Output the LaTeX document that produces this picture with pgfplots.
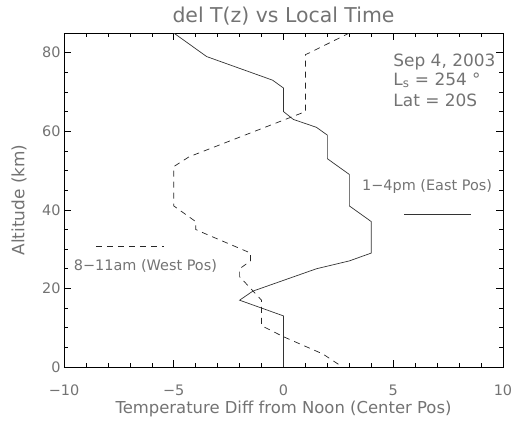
\documentclass[border=0pt]{standalone}
\usepackage{pgfplots}
\pgfplotsset{compat=1.18}
\usepackage{fontspec}
\setmainfont{DejaVu Sans}
\definecolor{txt}{gray}{0.45}
\begin{document}
\begin{tikzpicture}
\begin{axis}[
  scale only axis, width=439bp, height=334bp,
  xmin=-10, xmax=10, ymin=0, ymax=85,
  xtick={-10,-5,0,5,10}, xticklabels={−10,−5,0,5,10},
  ytick={0,20,40,60,80}, yticklabels={0,20,40,60,80},
  minor xtick={-9,-8,-7,-6,-4,-3,-2,-1,1,2,3,4,6,7,8,9},
  minor ytick={5,10,15,25,30,35,45,50,55,65,70,75,85},
  tick align=inside, major tick length=7bp, minor tick length=4bp,
  tick style={black, line width=0.6pt},
  axis line style={black, line width=0.8pt},
  ticklabel style={font=\fontsize{14.5}{15}\selectfont, text=txt},
  xticklabel style={yshift=-14bp},
  /pgf/number format/assume math mode=true,
  xlabel={Temperature Diff from Noon (Center Pos)},
  ylabel={Altitude (km)},
  xlabel style={at={(axis description cs:0.5,-0.1257)}, anchor=center, font=\fontsize{16.5}{17}\selectfont, text=txt},
  ylabel style={at={(axis description cs:-0.1025,0.5)}, anchor=center, rotate=0, font=\fontsize{17}{17}\selectfont, text=txt},
  clip mode=individual,
]
\addplot[black!80, line width=0.7pt] coordinates {
 (-5,85) (-3.5,79) (-0.5,73) (0,71) (0,65) (0.45,63) (1.5,61) (2,59) (2,53) (3,49) (3,41) (4,37) (4,29) (3,27) (1.5,25) (-1.4,19.3) (-2,17) (0,13) (0,0)
};
\addplot[black!85, line width=0.7pt, dash pattern=on 6bp off 5bp] coordinates {
 (3,85) (1.2,80) (1,79.5) (1,65) (-4.3,53.5) (-5,51) (-5,41) (-4,37) (-4,35) (-3.6,34) (-1.5,29) (-1.5,27) (-2,25) (-2,23) (-1,17) (-1,10.5) (0,7.7) (1.8,3.3) (2.5,0.7)
};
\addplot[black!80, line width=0.7pt] coordinates {(5.5,38.9) (8.55,38.9)};
\addplot[black!85, line width=0.7pt, dash pattern=on 6bp off 5bp] coordinates {(-8.55,30.6) (-5.45,30.6)};
\node[anchor=base, text=txt, font=\fontsize{20.5}{21}\selectfont] at (rel axis cs:0.5,1.03) {del T(z) vs Local Time};
\node[anchor=center, text=txt, font=\fontsize{14.5}{15}\selectfont] at (axis cs:6.54,45.9) {1−4pm (East Pos)};
\node[anchor=center, text=txt, font=\fontsize{14.5}{15}\selectfont] at (axis cs:-6.29,25.7) {8−11am (West Pos)};
\node[anchor=west, inner sep=0pt, text=txt, font=\fontsize{17}{17}\selectfont] at (axis cs:5,77.7) {Sep 4, 2003};
\node[anchor=west, inner sep=0pt, text=txt, font=\fontsize{17}{17}\selectfont] at (axis cs:5,73) {L\textsubscript{s} = 254 °};
\node[anchor=west, inner sep=0pt, text=txt, font=\fontsize{17}{17}\selectfont] at (axis cs:5,67.9) {Lat = 20S};
\end{axis}
\pgfresetboundingbox
\useasboundingbox (-64bp,-54bp) rectangle (448bp,367bp);
\end{tikzpicture}
\end{document}
